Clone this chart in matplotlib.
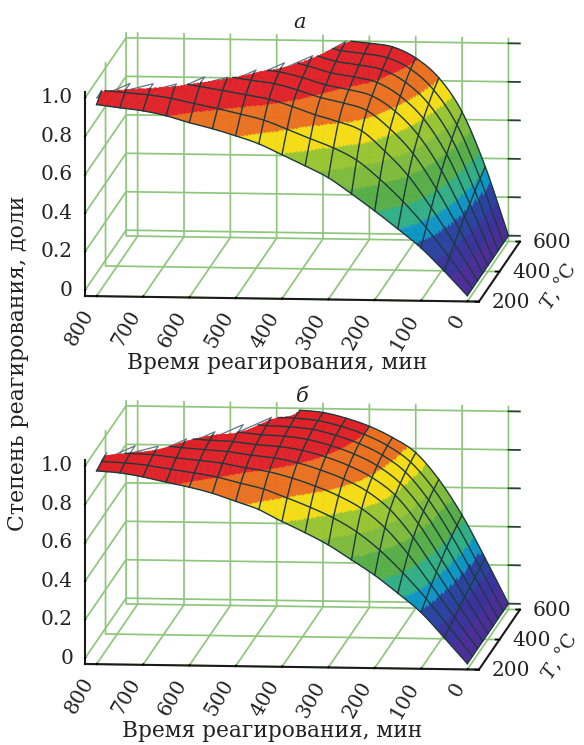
import numpy as np
import matplotlib
matplotlib.use("Agg")
import matplotlib.pyplot as plt
from matplotlib.colors import ListedColormap, BoundaryNorm
from mpl_toolkits.mplot3d import proj3d
from mpl_toolkits.mplot3d.art3d import Poly3DCollection

time_min = [0, 50, 100, 150, 200, 250, 300, 350, 400, 450, 500, 550, 600, 650, 700, 750, 800]
temp_c = [200, 250, 300, 350, 400, 450, 500, 550, 600]

conv_a = [
    [0.000, 0.000, 0.000, 0.000, 0.000, 0.000, 0.000, 0.000, 0.000],
    [0.127, 0.159, 0.191, 0.224, 0.254, 0.281, 0.309, 0.334, 0.357],
    [0.245, 0.312, 0.375, 0.435, 0.490, 0.537, 0.577, 0.612, 0.640],
    [0.342, 0.446, 0.541, 0.616, 0.673, 0.720, 0.758, 0.791, 0.815],
    [0.434, 0.560, 0.666, 0.743, 0.796, 0.835, 0.869, 0.898, 0.917],
    [0.521, 0.657, 0.770, 0.837, 0.874, 0.905, 0.932, 0.955, 0.973],
    [0.603, 0.719, 0.816, 0.874, 0.905, 0.932, 0.955, 0.975, 0.990],
    [0.663, 0.765, 0.850, 0.901, 0.928, 0.952, 0.972, 0.989, 1.003],
    [0.719, 0.813, 0.892, 0.939, 0.964, 0.986, 1.005, 1.020, 1.033],
    [0.774, 0.858, 0.928, 0.970, 0.992, 1.012, 1.029, 1.043, 1.054],
    [0.814, 0.888, 0.949, 0.986, 1.005, 1.022, 1.037, 1.049, 1.059],
    [0.849, 0.915, 0.970, 1.003, 1.021, 1.036, 1.049, 1.060, 1.069],
    [0.879, 0.939, 0.989, 1.019, 1.035, 1.049, 1.061, 1.071, 1.079],
    [0.913, 0.965, 1.008, 1.033, 1.047, 1.059, 1.070, 1.078, 1.085],
    [0.937, 0.981, 1.018, 1.040, 1.052, 1.062, 1.071, 1.078, 1.084],
    [0.951, 0.991, 1.024, 1.043, 1.054, 1.063, 1.071, 1.078, 1.083],
    [0.966, 1.001, 1.030, 1.048, 1.057, 1.065, 1.072, 1.078, 1.083],
]
conv_b = [
    [0.000, 0.000, 0.000, 0.000, 0.000, 0.000, 0.000, 0.000, 0.000],
    [0.134, 0.148, 0.162, 0.176, 0.189, 0.201, 0.213, 0.224, 0.234],
    [0.263, 0.296, 0.327, 0.356, 0.383, 0.407, 0.426, 0.443, 0.457],
    [0.361, 0.428, 0.487, 0.534, 0.567, 0.593, 0.612, 0.629, 0.640],
    [0.453, 0.544, 0.622, 0.677, 0.713, 0.736, 0.755, 0.768, 0.778],
    [0.531, 0.638, 0.719, 0.771, 0.803, 0.826, 0.842, 0.852, 0.855],
    [0.607, 0.708, 0.784, 0.833, 0.863, 0.885, 0.900, 0.909, 0.912],
    [0.669, 0.762, 0.833, 0.878, 0.907, 0.927, 0.941, 0.949, 0.952],
    [0.725, 0.809, 0.873, 0.914, 0.939, 0.957, 0.970, 0.977, 0.980],
    [0.786, 0.853, 0.904, 0.937, 0.957, 0.972, 0.982, 0.988, 0.990],
    [0.827, 0.882, 0.923, 0.950, 0.966, 0.978, 0.986, 0.991, 0.993],
    [0.867, 0.912, 0.945, 0.967, 0.980, 0.990, 0.997, 1.001, 1.002],
    [0.897, 0.932, 0.958, 0.975, 0.985, 0.993, 0.998, 1.001, 1.002],
    [0.921, 0.949, 0.970, 0.984, 0.992, 0.998, 1.003, 1.005, 1.006],
    [0.947, 0.968, 0.984, 0.994, 1.000, 1.004, 1.007, 1.009, 1.010],
    [0.966, 0.979, 0.989, 0.996, 1.000, 1.002, 1.004, 1.006, 1.006],
    [0.975, 0.985, 0.992, 0.997, 1.000, 1.002, 1.004, 1.005, 1.005],
]

band_levels = [-0.01, 0.09, 0.18, 0.27, 0.34, 0.43, 0.54, 0.63, 0.72, 0.81, 0.91, 1.2]
band_colors = ["#4b2a98", "#38309c", "#27409f", "#0a94c4", "#2eae84", "#55ad45",
               "#7dba3a", "#98c42f", "#f4dc12", "#ea6f1d", "#e01f26"]
x_ticks = [0, 100, 200, 300, 400, 500, 600, 700, 800]
y_ticks = [200, 400, 600]
z_ticks = [0, 0.2, 0.4, 0.6, 0.8, 1.0]
z_labels = ["0", "0.2", "0.4", "0.6", "0.8", "1.0"]
x_label = "Время реагирования, мин"
y_label = "Степень реагирования, доли"
t_label = "$T$, °C"

W, H = 584, 745
plt.rcParams["font.family"] = ["DejaVu Serif"]
plt.rcParams["mathtext.fontset"] = "dejavuserif"
plt.rcParams["grid.color"] = "#8fc67c"
plt.rcParams["grid.linewidth"] = 1.25
TXT = "#222222"
cmap = ListedColormap(band_colors)
norm = BoundaryNorm(band_levels, cmap.N)
fig = plt.figure(figsize=(W / 100, H / 100), dpi=100)
XL, YL, ZL = (825, -25), (200, 600), (-0.03, 1.03)


def smooth(xf, x, y):
    """Hermite curve through the read values."""
    x = np.asarray(x, float)
    y = np.asarray(y, float)
    m = np.gradient(y, x)
    i = np.clip(np.searchsorted(x, xf, side="right") - 1, 0, len(x) - 2)
    h = x[i + 1] - x[i]
    s = (xf - x[i]) / h
    return ((2 * s**3 - 3 * s**2 + 1) * y[i] + (s**3 - 2 * s**2 + s) * h * m[i]
            + (-2 * s**3 + 3 * s**2) * y[i + 1] + (s**3 - s**2) * h * m[i + 1])


def refine(values, factor=14):
    t = np.asarray(time_min, float)
    T = np.asarray(temp_c, float)
    tf = np.linspace(t[0], t[-1], (len(t) - 1) * factor + 1)
    Tf = np.linspace(T[0], T[-1], (len(T) - 1) * factor + 1)
    z = np.asarray(values, float)
    a = np.array([smooth(Tf, T, row) for row in z])
    b = np.array([smooth(tf, t, col) for col in a.T]).T
    return tf, Tf, b, factor


def panel(values, clip, front_left, back_right, title, title_xy):
    ax = fig.add_axes([0.1, 0.1, 400 / W, 400 / H], projection="3d",
                      proj_type="ortho", computed_zorder=False)
    ax.patch.set_alpha(0)
    ax.view_init(elev=8.3, azim=-84.36)
    ax.set_xlim(*XL, view_margin=0)
    ax.set_ylim(*YL, view_margin=0)
    ax.set_zlim(*ZL, view_margin=0)
    ax.set_box_aspect((395, 417, 205.6))
    ax.set_xticks(x_ticks)
    ax.set_yticks(y_ticks)
    ax.set_zticks(z_ticks)
    ax.set_xticklabels([""] * len(x_ticks))
    ax.set_yticklabels([""] * len(y_ticks))
    ax.set_zticklabels([""] * len(z_ticks))
    ax.zaxis.set_ticks_position("lower")
    for axis in (ax.xaxis, ax.yaxis, ax.zaxis):
        axis.set_pane_color((1, 1, 1, 0))
        axis.pane.set_edgecolor((1, 1, 1, 0))
        axis.line.set_color("#1a1a1a")
        axis.line.set_linewidth(1.5)
        axis._axinfo["tick"]["color"] = "#1a1a1a"
        axis._axinfo["tick"]["linewidth"] = {True: 1.3, False: 1.0}
        axis._axinfo["tick"]["inward_factor"] = 0.0
        axis._axinfo["tick"]["outward_factor"] = 0.12

    # dark ends of the wall lines at the far right
    for zv in z_ticks:
        ax.plot([0, XL[1]], [YL[1], YL[1]], [zv, zv], color="#2c3f35", lw=1.2, zorder=1)

    tf, Tf, z, step = refine(values)
    TT, _ = np.meshgrid(Tf, tf)
    tt = np.repeat(tf[:, None], len(Tf), axis=1)
    ok = z <= clip
    cells = ok[:-1, :-1] & ok[1:, :-1] & ok[:-1, 1:] & ok[1:, 1:]
    verts, cols = [], []
    for i, j in zip(*np.nonzero(cells)):
        idx = [(i, j), (i + 1, j), (i + 1, j + 1), (i, j + 1)]
        verts.append([(tt[p], TT[p], z[p]) for p in idx])
        cols.append(np.mean([z[p] for p in idx]))
    rgba = cmap(norm(cols))
    poly = Poly3DCollection(verts, facecolors=rgba, edgecolors=rgba, linewidths=0.3, zorder=3)
    ax.add_collection3d(poly)

    # mesh wires follow the measured nodes
    z_wire = np.where(ok, z, np.nan)
    for i in range(0, len(tf), step):
        ax.plot(tt[i], TT[i], z_wire[i], color="#1d3a3f", lw=1.0, zorder=4)
    for j in range(0, len(Tf), step):
        ax.plot(tt[:, j], TT[:, j], z_wire[:, j], color="#1d3a3f", lw=1.0, zorder=4)

    # stepped outline left where the surface is cut at the top
    vals = np.asarray(values, float)
    st_t, st_T = [], []
    for i, t in enumerate(time_min):
        over = np.nonzero(vals[i] > clip)[0]
        if len(over):
            st_t += [t, t]
            st_T += [temp_c[max(over[0] - 1, 0)], temp_c[over[0]]]
    ax.plot(st_t, st_T, np.full(len(st_t), clip), color="#5d7888", lw=0.9, zorder=2.5)

    # place the box so its floor corners land on the measured pixels
    ax.apply_aspect()
    M = ax.get_proj()

    def disp(x, y, zv):
        X, Y, _ = proj3d.proj_transform(x, y, zv, M)
        return ax.transData.transform((X, Y))

    p1 = disp(XL[0], YL[0], ZL[0])
    p2 = disp(XL[1], YL[1], ZL[0])
    size = 400 * (back_right[0] - front_left[0]) / (p2[0] - p1[0])
    ax.set_position([0.1, 0.1, size / W, size / H])
    ax.apply_aspect()
    q1 = disp(XL[0], YL[0], ZL[0])
    ax.set_position([0.1 + (front_left[0] - q1[0]) / W,
                     0.1 + (H - front_left[1] - q1[1]) / H, size / W, size / H])
    ax.apply_aspect()

    # tick labels sit at fixed pixel offsets from the projected tick positions
    def label(x, y, zv, dx, dy, text, **kw):
        p = disp(x, y, zv)
        fig.text((p[0] + dx) / W, (p[1] - dy) / H, text, fontsize=14.5, color=TXT, **kw)

    for v in x_ticks:
        label(v, YL[0], ZL[0], -7, 15, str(v), rotation=60, ha="right", va="center",
              rotation_mode="anchor")
    for v in y_ticks:
        label(XL[1], v, ZL[0], 13, 1, str(v), ha="left", va="center")
    for v, s in zip(z_ticks, z_labels):
        label(XL[0], YL[0], v, -12, 0, s, ha="right", va="center")

    fig.text(title_xy[0] / W, 1 - title_xy[1] / H, title, style="italic",
             fontsize=15, color=TXT, ha="center", va="center")
    return ax


panel(conv_a, 1.0, (85, 296), (520, 241), "а", (300, 22))
panel(conv_b, 0.99, (85, 664), (520, 610), "б", (302, 396))

fig.text(277 / W, 1 - 363 / H, x_label, fontsize=15.7, color=TXT, ha="center", va="center")
fig.text(272 / W, 1 - 731 / H, x_label, fontsize=15.7, color=TXT, ha="center", va="center")
fig.text(18 / W, 1 - 363 / H, y_label, fontsize=15.8, color=TXT, rotation=90, ha="center", va="center")
fig.text(559 / W, 1 - 287 / H, t_label, fontsize=14, color=TXT, rotation=58, ha="center", va="center")
fig.text(560 / W, 1 - 657 / H, t_label, fontsize=14, color=TXT, rotation=58, ha="center", va="center")

fig.savefig("out.png", dpi=100)
